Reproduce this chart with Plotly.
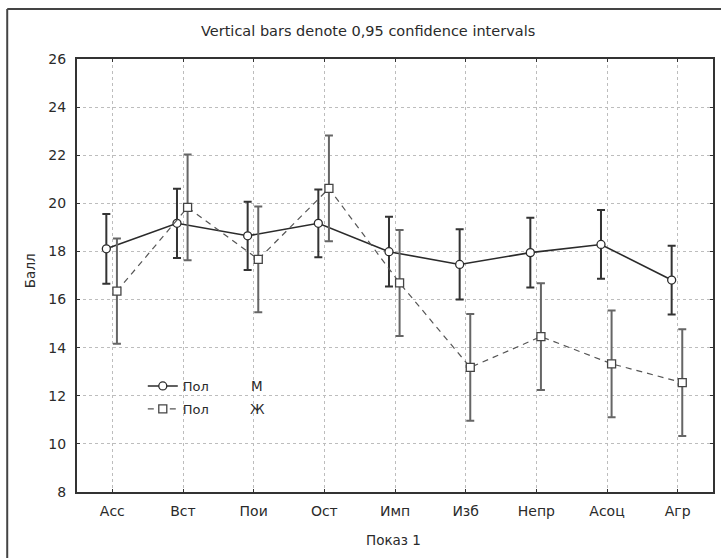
import plotly.graph_objects as go

categories = ["Асс", "Вст", "Пои", "Ост", "Имп", "Изб", "Непр", "Асоц", "Агр"]
m_mean = [18.11, 19.17, 18.65, 19.17, 17.99, 17.46, 17.95, 18.29, 16.81]
m_ci = [1.45, 1.44, 1.42, 1.41, 1.45, 1.46, 1.45, 1.43, 1.43]
f_mean = [16.35, 19.83, 17.67, 20.62, 16.69, 13.18, 14.46, 13.33, 12.55]
f_ci = [2.19, 2.2, 2.2, 2.2, 2.2, 2.22, 2.22, 2.22, 2.22]
y_ticks = [8, 10, 12, 14, 16, 18, 20, 22, 24, 26]

FONT = "DejaVu Sans"
TXT = "#2a2a2a"
W, H = 721, 558
L, R, T, B = 77, 6, 59, 66
PW, PH = W - L - R, H - T - B

def px(x):
    return (x - L) / PW

def py(y):
    return (H - B - y) / PH

idx = list(range(len(categories)))
off_m, off_f = -0.085, 0.065

fig = go.Figure()
fig.add_trace(go.Scatter(
    x=[i + off_m for i in idx], y=m_mean, mode="lines+markers", name="Пол",
    legendgroup="m",
    line=dict(color="#2b2b2b", width=1.6),
    marker=dict(symbol="circle", size=8, color="white", line=dict(color="#2b2b2b", width=1.3)),
    error_y=dict(type="data", array=m_ci, visible=True, color="#333333", thickness=2, width=4),
))
fig.add_trace(go.Scatter(
    x=[i + off_f for i in idx], y=f_mean, mode="lines+markers", name="Пол",
    legendgroup="f",
    line=dict(color="#555555", width=1.2, dash="6px,5px"),
    marker=dict(symbol="square", size=8, color="white", line=dict(color="#444444", width=1.3)),
    error_y=dict(type="data", array=f_ci, visible=True, color="#666666", thickness=2, width=4),
))

axis_common = dict(
    showline=True, linecolor="#333333", linewidth=2, mirror="ticks",
    ticks="inside", ticklen=3, tickcolor="#333333", tickwidth=1,
    showgrid=True, gridcolor="#bdbdbd", griddash="dot", gridwidth=1,
    zeroline=False, tickfont=dict(family=FONT, size=14, color=TXT),
)

fig.update_layout(
    width=W, height=H,
    margin=dict(l=L, r=R, t=T, b=B),
    paper_bgcolor="white", plot_bgcolor="white",
    showlegend=True,
    legend=dict(
        x=px(143), y=py(371), xanchor="left", yanchor="top",
        bgcolor="rgba(0,0,0,0)", font=dict(family=FONT, size=13, color=TXT),
        tracegroupgap=3, itemwidth=30,
    ),
    xaxis=dict(
        range=[-0.5, len(categories) - 0.5], tickmode="array",
        tickvals=idx, ticktext=categories, ticklabelstandoff=5,
        **axis_common,
    ),
    yaxis=dict(
        range=[8, 26], tickmode="array", tickvals=y_ticks,
        ticktext=[str(v) for v in y_ticks], ticklabelstandoff=6,
        **axis_common,
    ),
)

annotations = [
    dict(text="Vertical bars denote 0,95 confidence intervals", x=px(369), y=py(31),
         xref="paper", yref="paper", showarrow=False, xanchor="center", yanchor="middle",
         font=dict(family=FONT, size=14.5, color=TXT)),
    dict(text="Балл", x=px(30), y=py(271), xref="paper", yref="paper", showarrow=False,
         textangle=-90, xanchor="center", yanchor="middle",
         font=dict(family=FONT, size=13.5, color=TXT)),
    dict(text="Показ 1", x=px(394), y=py(540), xref="paper", yref="paper", showarrow=False,
         xanchor="center", yanchor="middle",
         font=dict(family=FONT, size=13.5, color=TXT)),
    dict(text="М", x=px(258), y=py(386), xref="paper", yref="paper", showarrow=False,
         xanchor="center", yanchor="middle",
         font=dict(family=FONT, size=13.5, color=TXT)),
    dict(text="Ж", x=px(258), y=py(409), xref="paper", yref="paper", showarrow=False,
         xanchor="center", yanchor="middle",
         font=dict(family=FONT, size=13.5, color=TXT)),
]
fig.update_layout(annotations=annotations)

frame = dict(color="#444444", width=2)
fig.add_shape(type="line", xref="paper", yref="paper", x0=px(7), x1=px(7), y0=py(9), y1=py(565), line=frame)
fig.add_shape(type="line", xref="paper", yref="paper", x0=px(7), x1=px(725), y0=py(9), y1=py(9), line=frame)

fig.write_html(
    "out.html",
    config={"displayModeBar": False},
    post_script="document.body.style.margin='0';document.body.style.overflow='hidden';",
)
